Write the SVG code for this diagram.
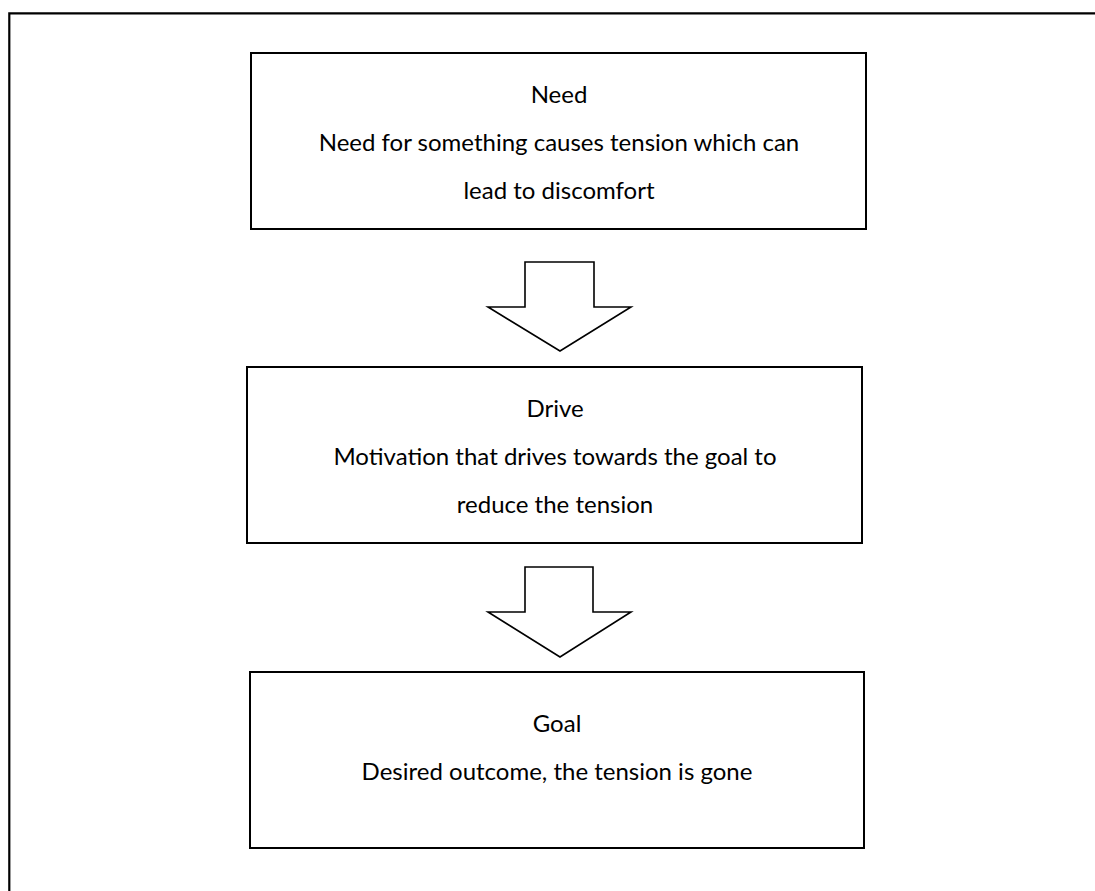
<svg xmlns="http://www.w3.org/2000/svg" width="1095" height="891" viewBox="0 0 1095 891">
<style>
.box{fill:#fff;stroke:#000;stroke-width:2}
.arrow{fill:#fff;stroke:#000;stroke-width:1.6;stroke-linejoin:miter}
text{font-family:Lato,"Open Sans","Liberation Sans",sans-serif;font-size:24px;fill:#000;text-anchor:middle}
</style>
<rect width="1095" height="891" fill="#fff"/>
<path id="frame" d="M9.3 895 V13.3 H1100" fill="none" stroke="#000" stroke-width="2.2"/>
<g id="need">
<rect class="box" x="251" y="53" width="615" height="176"/>
<text x="559" y="103">Need</text>
<text x="559" y="151">Need for something causes tension which can</text>
<text x="559" y="199">lead to discomfort</text>
</g>
<g id="drive">
<rect class="box" x="247" y="367" width="615" height="176"/>
<text x="555" y="417">Drive</text>
<text x="555" y="465">Motivation that drives towards the goal to</text>
<text x="555" y="513">reduce the tension</text>
</g>
<g id="goal">
<rect class="box" x="250" y="672" width="614" height="176"/>
<text x="557" y="732">Goal</text>
<text x="557" y="780">Desired outcome, the tension is gone</text>
</g>
<g id="connectors">
<polygon class="arrow" points="525,262 594,262 594,307 631,307 560,351 488,307 525,307"/>
<polygon class="arrow" points="525,567 593,567 593,612 631,612 560,657 488,612 525,612"/>
</g>
</svg>
